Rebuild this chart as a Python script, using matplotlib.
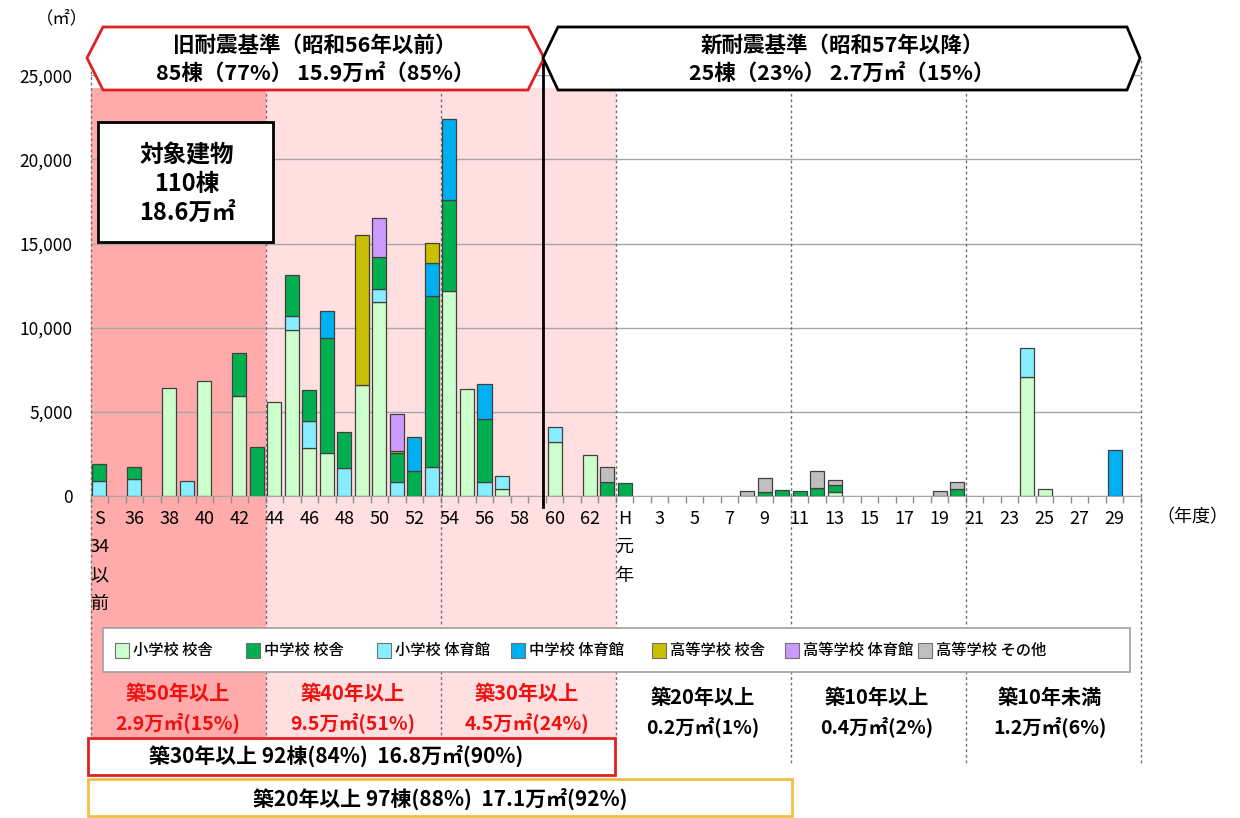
import numpy as np
import matplotlib.pyplot as plt
from matplotlib.patches import Rectangle, Polygon
from matplotlib.transforms import blended_transform_factory
from matplotlib.ticker import FuncFormatter

plt.rcParams['font.family'] = ['Noto Sans CJK JP', 'DejaVu Sans']

# 60 slots: S34(以前)..S63, H1..H30  (index 29+n = Hn)
n_slots = 60
tick_pos = list(range(0, 60, 2))
tick_labels = ['S\n34\n以\n前', '36', '38', '40', '42', '44', '46', '48', '50', '52',
               '54', '56', '58', '60', '62', 'H\n元\n年', '3', '5', '7', '9',
               '11', '13', '15', '17', '19', '21', '23', '25', '27', '29']

# series (m2), stacked in this order
sho_kousha = [0, 0, 0, 0, 6400, 0, 6800, 0, 5950, 0,
              5560, 9860, 2820, 2560, 0, 6590, 11540, 0, 0, 0,
              12180, 6330, 0, 390, 0, 0, 3220, 0, 2430, 0,
              0, 0, 0, 0, 0, 0, 0, 0, 0, 0,
              0, 0, 200, 0, 0, 0, 0, 0, 0, 0,
              0, 0, 0, 7040, 380, 0, 0, 0, 0, 0]
sho_taiiku = [900, 0, 1000, 0, 0, 880, 0, 0, 0, 0,
              0, 850, 1650, 0, 1630, 0, 740, 840, 0, 1690,
              0, 0, 800, 810, 0, 0, 890, 0, 0, 0,
              0, 0, 0, 0, 0, 0, 0, 0, 0, 0,
              0, 0, 0, 0, 0, 0, 0, 0, 0, 0,
              0, 0, 0, 1730, 0, 0, 0, 0, 0, 0]
chu_kousha = [1000, 0, 730, 0, 0, 0, 0, 0, 2520, 2880,
              0, 2420, 1820, 6800, 2180, 0, 1900, 1690, 1490, 10210,
              5410, 0, 3770, 0, 0, 0, 0, 0, 0, 840,
              790, 0, 0, 0, 0, 0, 0, 0, 240, 340,
              280, 440, 430, 0, 0, 0, 0, 0, 0, 380,
              0, 0, 0, 0, 0, 0, 0, 0, 0, 0]
chu_taiiku = [0, 0, 0, 0, 0, 0, 0, 0, 0, 0,
              0, 0, 0, 1640, 0, 0, 0, 0, 1990, 1920,
              4810, 0, 2060, 0, 0, 0, 0, 0, 0, 0,
              0, 0, 0, 0, 0, 0, 0, 0, 0, 0,
              0, 0, 0, 0, 0, 0, 0, 0, 0, 0,
              0, 0, 0, 0, 0, 0, 0, 0, 2720, 0]
kou_kousha = [0, 0, 0, 0, 0, 0, 0, 0, 0, 0,
              0, 0, 0, 0, 0, 8910, 0, 150, 0, 1190,
              0, 0, 0, 0, 0, 0, 0, 0, 0, 0,
              0, 0, 0, 0, 0, 0, 0, 0, 0, 0,
              0, 0, 0, 0, 0, 0, 0, 0, 0, 0,
              0, 0, 0, 0, 0, 0, 0, 0, 0, 0]
kou_taiiku = [0, 0, 0, 0, 0, 0, 0, 0, 0, 0,
              0, 0, 0, 0, 0, 0, 2350, 2170, 0, 0,
              0, 0, 0, 0, 0, 0, 0, 0, 0, 0,
              0, 0, 0, 0, 0, 0, 0, 0, 0, 0,
              0, 0, 0, 0, 0, 0, 0, 0, 0, 0,
              0, 0, 0, 0, 0, 0, 0, 0, 0, 0]
kou_sonota = [0, 0, 0, 0, 0, 0, 0, 0, 0, 0,
              0, 0, 0, 0, 0, 0, 0, 0, 0, 0,
              0, 0, 0, 0, 0, 0, 0, 0, 0, 890,
              0, 0, 0, 0, 0, 0, 0, 300, 830, 0,
              0, 1030, 300, 0, 0, 0, 0, 0, 300, 450,
              0, 0, 0, 0, 0, 0, 0, 0, 0, 0]

stack = [sho_kousha, sho_taiiku, chu_kousha, chu_taiiku, kou_kousha, kou_taiiku, kou_sonota]
stack_colors = ['#CCFFCC', '#88EEFF', '#00B050', '#00B0F0', '#C8C000', '#CC99FF', '#BFBFBF']

# legend order (as shown)
legend_names = ['小学校 校舎', '中学校 校舎', '小学校 体育館', '中学校 体育館',
                '高等学校 校舎', '高等学校 体育館', '高等学校 その他']
legend_colors = ['#CCFFCC', '#00B050', '#88EEFF', '#00B0F0', '#C8C000', '#CC99FF', '#BFBFBF']

age_titles = ['築50年以上', '築40年以上', '築30年以上', '築20年以上', '築10年以上', '築10年未満']
age_areas = ['2.9万㎡(15%)', '9.5万㎡(51%)', '4.5万㎡(24%)', '0.2万㎡(1%)', '0.4万㎡(2%)', '1.2万㎡(6%)']

W, H = 1240, 818
fig = plt.figure(figsize=(12.4, 8.18), dpi=100)
ax = fig.add_axes([90.6 / W, 1 - 495.8 / H, (1141 - 90.6) / W, (495.8 - 75.3) / H])
ax.set_facecolor('none')
blend = blended_transform_factory(ax.transData, fig.transFigure)


def fy(y):
    return 1 - y / H


def prect(x0, y0, x1, y1, **kw):
    r = Rectangle((x0 / W, fy(y1)), (x1 - x0) / W, (y1 - y0) / H,
                  transform=fig.transFigure, clip_on=False, **kw)
    ax.add_patch(r)


# background shading
ax.add_patch(Rectangle((-0.5, fy(737)), 10, (737 - 88) / H, transform=blend,
                       facecolor='#FFABAB', edgecolor='none', clip_on=False, zorder=0.1))
ax.add_patch(Rectangle((9.5, fy(737)), 20, (737 - 88) / H, transform=blend,
                       facecolor='#FFDFDF', edgecolor='none', clip_on=False, zorder=0.1))

# dashed separators
for xb, yend in [(-0.5, 737), (9.5, 737), (19.5, 737), (29.5, 737),
                 (39.5, 765), (49.5, 765), (59.5, 765)]:
    ax.plot([xb, xb], [fy(60), fy(yend)], transform=blend, color='#707070',
            lw=1, ls=(0, (2, 2)), clip_on=False, zorder=0.6)

x = np.arange(n_slots)
bottom = np.zeros(n_slots)
for vals, col in zip(stack, stack_colors):
    v = np.array(vals, dtype=float)
    m = v > 0
    ax.bar(x[m], v[m], bottom=bottom[m], width=0.8, color=col,
           edgecolor='#404040', linewidth=0.9, zorder=2)
    bottom += v

ax.set_xlim(-0.5, 59.5)
ax.set_ylim(0, 25000)
ax.set_yticks(range(0, 25001, 5000))
ax.yaxis.set_major_formatter(FuncFormatter(lambda v, p: f'{v:,.0f}'))
ax.yaxis.grid(True, color='#A6A6A6', lw=1)
ax.set_axisbelow(True)
for s in ['top', 'right', 'left']:
    ax.spines[s].set_visible(False)
ax.spines['bottom'].set_color('#A6A6A6')
ax.tick_params(axis='y', length=0, pad=13, labelsize=12.5)
ax.set_xticks(tick_pos)
ax.set_xticklabels(tick_labels)
ax.set_xticks(np.arange(-0.5, 60, 1), minor=True)
ax.tick_params(axis='x', which='major', length=0, pad=10, labelsize=13)
ax.tick_params(axis='x', which='minor', length=5, color='#909090', width=1)
for t in ax.get_xticklabels():
    t.set_linespacing(1.75)

# black divider
ax.plot([25.33, 25.33], [fy(58), fy(507)], transform=blend, color='black',
        lw=2, clip_on=False, zorder=3)

# top arrow boxes
old = Polygon([(87, 58), (103, 27), (528, 27), (544, 58), (528, 90), (103, 90)])
new = Polygon([(543, 58), (558, 27), (1127, 27), (1140, 58), (1127, 90), (558, 90)])
for poly, ec in [(old, '#E02020'), (new, 'black')]:
    pts = poly.get_xy()
    p = Polygon([(a / W, fy(b)) for a, b in pts], closed=True, transform=fig.transFigure,
                facecolor='white', edgecolor=ec, lw=2, clip_on=False, zorder=4)
    ax.add_patch(p)
tk = dict(transform=fig.transFigure, ha='center', va='center', fontsize=15.5,
          fontweight='bold', zorder=6)
ax.text(315 / W, fy(45), '旧耐震基準（昭和56年以前）', **tk)
ax.text(315 / W, fy(74), '85棟（77%） 15.9万㎡（85%）', **tk)
ax.text(842 / W, fy(45), '新耐震基準（昭和57年以降）', **tk)
ax.text(842 / W, fy(74), '25棟（23%） 2.7万㎡（15%）', **tk)

# target box
prect(98, 122, 273, 242, facecolor='white', edgecolor='black', lw=2, zorder=4)
ax.text(187 / W, fy(184), '対象建物\n110棟\n18.6万㎡', transform=fig.transFigure,
        ha='center', va='center', fontsize=17, fontweight='bold', linespacing=1.25, zorder=6)

# unit labels
fig.text(62 / W, fy(18), '（㎡）', ha='center', va='center', fontsize=12.5)
fig.text(1192 / W, fy(517), '（年度）', ha='center', va='center', fontsize=13)

# legend
prect(103, 628, 1130, 672, facecolor='white', edgecolor='#A0A0A0', lw=1.2, zorder=4)
leg_x = [115, 246, 377, 511, 652, 785, 918]
for lx, name, col in zip(leg_x, legend_names, legend_colors):
    prect(lx, 643, lx + 14, 658, facecolor=col, edgecolor='#707070', lw=0.8, zorder=5)
    ax.text((lx + 18) / W, fy(650), name, transform=fig.transFigure, ha='left',
            va='center', fontsize=11, fontweight='medium', zorder=6)

# age group labels
age_cx = [178, 353, 527, 703, 877, 1050]
for k, (cx, t1, t2) in enumerate(zip(age_cx, age_titles, age_areas)):
    col = '#F01010' if k < 3 else 'black'
    dy = 0 if k < 3 else 4
    ax.text(cx / W, fy(693 + dy), t1, transform=fig.transFigure, ha='center', va='center',
            fontsize=14.5, fontweight='bold', color=col, zorder=6)
    ax.text(cx / W, fy(723 + dy), t2, transform=fig.transFigure, ha='center', va='center',
            fontsize=14, fontweight='bold', color=col, zorder=6)

prect(88, 738, 615, 775, facecolor='white', edgecolor='#E02020', lw=2, zorder=4)
ax.text(336 / W, fy(756), '築30年以上 92棟(84%)  16.8万㎡(90%)', transform=fig.transFigure,
        ha='center', va='center', fontsize=15, fontweight='bold', zorder=6)
prect(88, 779, 792, 816, facecolor='white', edgecolor='#F0C040', lw=2, zorder=4)
ax.text(440 / W, fy(799), '築20年以上 97棟(88%)  17.1万㎡(92%)', transform=fig.transFigure,
        ha='center', va='center', fontsize=15, fontweight='bold', zorder=6)

fig.savefig('out.png', dpi=100)
